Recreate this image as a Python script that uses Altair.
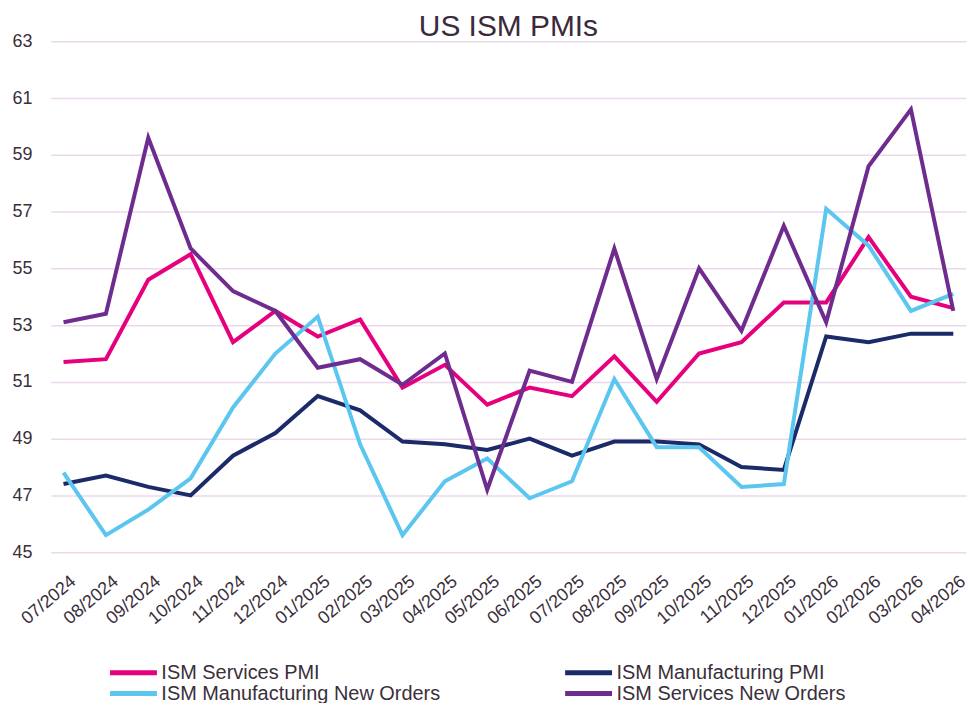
import altair as alt
import pandas as pd

months = ["07/2024", "08/2024", "09/2024", "10/2024", "11/2024", "12/2024",
          "01/2025", "02/2025", "03/2025", "04/2025", "05/2025", "06/2025",
          "07/2025", "08/2025", "09/2025", "10/2025", "11/2025", "12/2025",
          "01/2026", "02/2026", "03/2026", "04/2026"]

services_pmi = [51.7, 51.8, 54.6, 55.5, 52.4, 53.5, 52.6, 53.2, 50.8, 51.6, 50.2,
                50.8, 50.5, 51.9, 50.3, 52.0, 52.4, 53.8, 53.8, 56.1, 54.0, 53.6]
manufacturing_pmi = [47.4, 47.7, 47.3, 47.0, 48.4, 49.2, 50.5, 50.0, 48.9, 48.8, 48.6,
                     49.0, 48.4, 48.9, 48.9, 48.8, 48.0, 47.9, 52.6, 52.4, 52.7, 52.7]
manufacturing_new_orders = [47.8, 45.6, 46.5, 47.6, 50.1, 52.0, 53.3, 48.8, 45.6, 47.5, 48.3,
                            46.9, 47.5, 51.1, 48.7, 48.7, 47.3, 47.4, 57.1, 55.8, 53.5, 54.1]
services_new_orders = [53.1, 53.4, 59.6, 55.7, 54.2, 53.5, 51.5, 51.8, 50.9, 52.0, 47.2,
                       51.4, 51.0, 55.7, 51.1, 55.0, 52.8, 56.5, 53.1, 58.6, 60.6, 53.5]

series_names = ["ISM Services PMI", "ISM Manufacturing PMI",
                "ISM Manufacturing New Orders", "ISM Services New Orders"]
series_colors = ["#E6007E", "#1B2A68", "#5BC6F0", "#6F2C8F"]
y_ticks = [45, 47, 49, 51, 53, 55, 57, 59, 61, 63]

rows = []
for name, vals in zip(series_names, [services_pmi, manufacturing_pmi,
                                     manufacturing_new_orders, services_new_orders]):
    for m, v in zip(months, vals):
        rows.append({"month": m, "value": v, "series": name,
                     "order": series_names.index(name)})
df = pd.DataFrame(rows)

chart = alt.Chart(df).mark_line(strokeWidth=4).encode(
    x=alt.X("month:O", sort=months, scale=alt.Scale(type="point", padding=0.3),
            axis=alt.Axis(title=None, grid=False, domain=False, ticks=False,
                          labelAngle=-40, labelFontSize=18, labelPadding=20,
                          labelColor="#3a2f3a", labelOffset=4)),
    y=alt.Y("value:Q", scale=alt.Scale(domain=[45, 63], nice=False, zero=False),
            axis=alt.Axis(title=None, values=y_ticks, grid=True, gridColor="#EBD8EB",
                          gridWidth=1.5, domain=False, ticks=False, labelPadding=19,
                          labelFontSize=18, labelColor="#3a2f3a")),
    color=alt.Color("series:N", sort=series_names,
                    scale=alt.Scale(domain=series_names, range=series_colors),
                    legend=alt.Legend(orient="none", legendX=72, legendY=623,
                                      direction="horizontal",
                                      columns=2, symbolType="M-2.77,0H2.77", symbolSize=289,
                                      symbolStrokeWidth=5, labelFontSize=20,
                                      labelColor="#3a2f3a", columnPadding=114,
                                      rowPadding=0, title=None, labelLimit=0,
                                      padding=0, labelOffset=17)),
    detail="series:N",
    order="order:Q",
).properties(
    width=919, height=513,
    title=alt.TitleParams("US ISM PMIs", fontSize=30, font="Liberation Sans",
                          fontWeight="normal", color="#3b2a3b", offset=-10, anchor="middle"),
    padding={"left": 3, "top": 3, "right": 0, "bottom": 0},
).configure(font="Liberation Sans").configure_view(stroke=None)

chart.save("out.html", embed_options={"renderer": "svg", "actions": False})
